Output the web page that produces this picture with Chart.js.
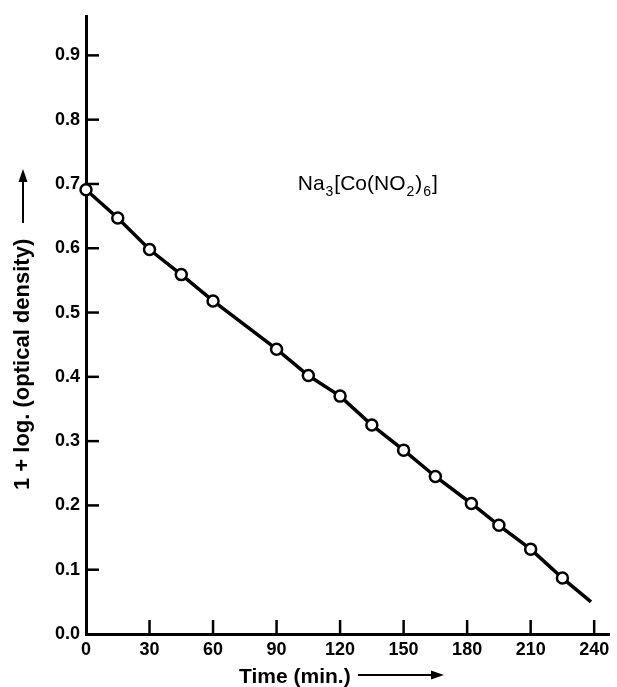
<!DOCTYPE html>
<html>
<head>
<meta charset="utf-8">
<script src="https://cdn.jsdelivr.net/npm/chart.js@4.4.1/dist/chart.umd.min.js"></script>
<style>
  html, body { margin: 0; background: #fff; }
  canvas { display: block; }
</style>
</head>
<body>
<canvas id="myChart" width="617" height="687"></canvas>
<script>
// readings
const timeMin = [0, 15, 30, 45, 60, 90, 105, 120, 135, 150, 165, 182, 195, 210, 225];
const logOD = [0.691, 0.647, 0.598, 0.559, 0.518, 0.443, 0.402, 0.370, 0.325, 0.286, 0.245, 0.203, 0.169, 0.132, 0.087];
const lineEnd = [238.5, 0.050]; // where the drawn line stops

const xTicks = [0, 30, 60, 90, 120, 150, 180, 210, 240];
const yTicks = [0, 0.1, 0.2, 0.3, 0.4, 0.5, 0.6, 0.7, 0.8, 0.9];
const xMax = 247;
const yMax = 0.96;

const compound = [['Na', ''], ['3', 'sub'], ['[Co(NO', ''], ['2', 'sub'], [')', ''], ['6', 'sub'], [']', '']];
const xTitle = 'Time (min.)';
const yTitle = '1 + log. (optical density)';

const FONT = '"Liberation Sans", Arial, sans-serif';

function arrow(ctx, x1, y1, x2, y2) {
  const ang = Math.atan2(y2 - y1, x2 - x1);
  ctx.beginPath();
  ctx.moveTo(x1, y1);
  ctx.lineTo(x2 - 8 * Math.cos(ang), y2 - 8 * Math.sin(ang));
  ctx.lineWidth = 2;
  ctx.stroke();
  ctx.save();
  ctx.translate(x2, y2);
  ctx.rotate(ang);
  ctx.beginPath();
  ctx.moveTo(0, 0);
  ctx.lineTo(-13, -4.5);
  ctx.lineTo(-13, 4.5);
  ctx.closePath();
  ctx.fill();
  ctx.restore();
}

// inward tick marks, axis titles with arrows, compound label
const overlay = {
  id: 'overlay',
  afterDraw(chart) {
    const { ctx, chartArea, scales: { x, y } } = chart;
    ctx.save();
    ctx.strokeStyle = '#000';
    ctx.fillStyle = '#000';
    ctx.lineWidth = 2.5;

    xTicks.forEach((v) => {
      if (v === 0) return;
      const px = x.getPixelForValue(v);
      ctx.beginPath();
      ctx.moveTo(px, chartArea.bottom);
      ctx.lineTo(px, chartArea.bottom - 14);
      ctx.stroke();
    });
    yTicks.forEach((v) => {
      if (v === 0) return;
      const py = y.getPixelForValue(v);
      ctx.beginPath();
      ctx.moveTo(chartArea.left, py);
      ctx.lineTo(chartArea.left + 13, py);
      ctx.stroke();
    });

    // x title
    ctx.font = 'bold 21px ' + FONT;
    ctx.textAlign = 'left';
    ctx.textBaseline = 'alphabetic';
    ctx.fillText(xTitle, 239, 683, 113);
    arrow(ctx, 358, 675, 444, 675);

    // y title (rotated)
    ctx.save();
    ctx.translate(23, 490);
    ctx.rotate(-Math.PI / 2);
    ctx.font = 'bold 22px ' + FONT;
    ctx.textBaseline = 'middle';
    ctx.fillText(yTitle, 0, 0, 260);
    arrow(ctx, 267, 0, 321, 0);
    ctx.restore();

    // compound name, anchored in data space
    let cx = x.getPixelForValue(100);
    const cy = y.getPixelForValue(0.69);
    ctx.textBaseline = 'alphabetic';
    compound.forEach(([txt, kind]) => {
      if (kind === 'sub') {
        ctx.font = '14px ' + FONT;
        ctx.fillText(txt, cx + 1, cy + 6);
        cx += ctx.measureText(txt).width + 2;
      } else {
        ctx.font = '21px ' + FONT;
        ctx.fillText(txt, cx, cy);
        cx += ctx.measureText(txt).width;
      }
    });
    ctx.restore();
  }
};

const ctx = document.getElementById('myChart');

new Chart(ctx, {
  type: 'scatter',
  data: {
    datasets: [
      {
        label: 'readings',
        data: timeMin.map((t, i) => ({ x: t, y: logOD[i] })),
        pointRadius: 5.5,
        pointBorderWidth: 2.5,
        pointBorderColor: '#000',
        pointBackgroundColor: '#fff',
        showLine: false,
        clip: false,
        order: 0,
      },
      {
        label: 'line',
        data: timeMin.map((t, i) => ({ x: t, y: logOD[i] })).concat([{ x: lineEnd[0], y: lineEnd[1] }]),
        showLine: true,
        borderColor: '#000',
        borderWidth: 3.5,
        pointRadius: 0,
        tension: 0,
        clip: false,
        order: 1,
      },
    ],
  },
  options: {
    responsive: false,
    animation: false,
    events: [],
    layout: { padding: { top: 15, right: 4, left: 0, bottom: 0 } },
    plugins: { legend: { display: false }, tooltip: { enabled: false } },
    scales: {
      x: {
        type: 'linear',
        min: 0,
        max: xMax,
        afterBuildTicks: (scale) => { scale.ticks = xTicks.map((v) => ({ value: v })); },
        afterFit: (scale) => { scale.height = 53; },
        grid: { display: false, drawTicks: false },
        border: { display: true, color: '#000', width: 3 },
        ticks: { color: '#000', padding: 5, maxRotation: 0, font: { family: FONT, size: 18, weight: 'bold' } },
      },
      y: {
        min: 0,
        max: yMax,
        afterBuildTicks: (scale) => { scale.ticks = yTicks.map((v) => ({ value: v })); },
        afterFit: (scale) => { scale.width = 86; },
        grid: { display: false, drawTicks: false },
        border: { display: true, color: '#000', width: 3 },
        ticks: {
          color: '#000',
          padding: 6,
          font: { family: FONT, size: 18, weight: 'bold' },
          callback: (v) => v.toFixed(1),
        },
      },
    },
  },
  plugins: [overlay],
});
</script>
</body>
</html>
